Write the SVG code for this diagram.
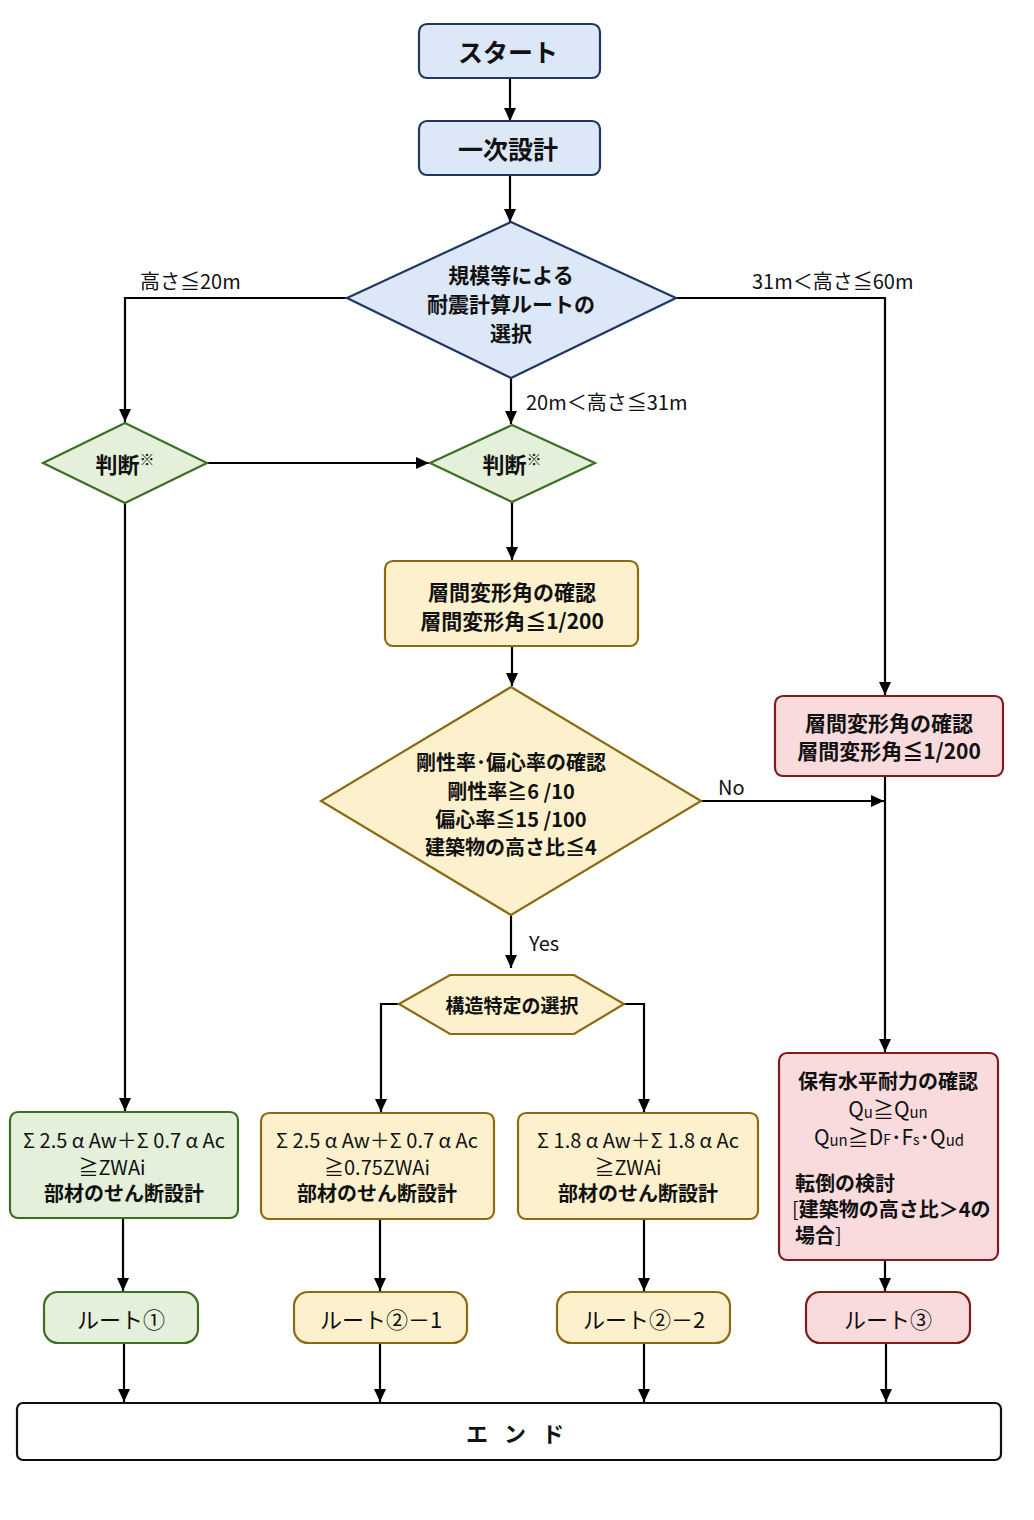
<svg xmlns="http://www.w3.org/2000/svg" width="1034" height="1520" viewBox="0 0 1034 1520">
<defs>
<marker id="ah" markerWidth="14" markerHeight="12" refX="13" refY="6" orient="auto" markerUnits="userSpaceOnUse">
<path d="M0,0 L13,6 L0,12 z" fill="#000"/>
</marker>
<style>
text{font-family:"Noto Sans CJK JP","Noto Sans",sans-serif;fill:#111;text-anchor:middle;dominant-baseline:central}
.b{font-weight:bold}
.blue{fill:#dce8f8;stroke:#1f3763;stroke-width:2.2}
.green{fill:#e4f0da;stroke:#3d6e24;stroke-width:2.2}
.yel{fill:#fdf1cd;stroke:#8a6b14;stroke-width:2.2}
.red{fill:#fadbdd;stroke:#7f1d1d;stroke-width:2.2}
.end{fill:#fff;stroke:#111;stroke-width:2.2}
.arr{fill:none;stroke:#000;stroke-width:2.2;marker-end:url(#ah)}
.lab{font-size:20px;text-anchor:start}
.f{font-size:20px}
</style>
</defs>
<rect width="1034" height="1520" fill="#fff"/>

<g id="connectors">
<line class="arr" x1="510" y1="78" x2="510" y2="121"/>
<line class="arr" x1="510" y1="175" x2="510" y2="222"/>
<polyline class="arr" points="347,298 125,298 125,422"/>
<polyline class="arr" points="676,298 885,298 885,695"/>
<line class="arr" x1="511" y1="378" x2="511" y2="424"/>
<line class="arr" x1="207" y1="463" x2="429" y2="463"/>
<line class="arr" x1="125" y1="503" x2="125" y2="1111"/>
<line class="arr" x1="512" y1="502" x2="512" y2="560"/>
<line class="arr" x1="512" y1="646" x2="512" y2="686"/>
<line class="arr" x1="701" y1="801" x2="884" y2="801"/>
<line class="arr" x1="511" y1="915" x2="511" y2="968"/>
<line class="arr" x1="885" y1="776" x2="885" y2="1052"/>
<polyline class="arr" points="399,1004 381,1004 381,1112"/>
<polyline class="arr" points="624,1004 644,1004 644,1112"/>
<line class="arr" x1="123" y1="1218" x2="123" y2="1291"/>
<line class="arr" x1="380" y1="1219" x2="380" y2="1291"/>
<line class="arr" x1="644" y1="1219" x2="644" y2="1291"/>
<line class="arr" x1="885" y1="1260" x2="885" y2="1291"/>
<line class="arr" x1="124" y1="1343" x2="124" y2="1402"/>
<line class="arr" x1="380" y1="1343" x2="380" y2="1402"/>
<line class="arr" x1="644" y1="1343" x2="644" y2="1402"/>
<line class="arr" x1="886" y1="1343" x2="886" y2="1402"/>
<text class="lab" x="140" y="280">高さ≦20m</text>
<text class="lab" x="752" y="280">31m＜高さ≦60m</text>
<text class="lab" x="526" y="401">20m＜高さ≦31m</text>
<text class="lab" x="718" y="786">No</text>
<text class="lab" x="529" y="942">Yes</text>
</g>

<g id="start">
<rect class="blue" x="419" y="24" width="181" height="54" rx="8"/>
<text class="b" x="508" y="51" font-size="25">スタート</text>
</g>

<g id="primary">
<rect class="blue" x="419" y="121" width="181" height="54" rx="8"/>
<text class="b" x="508" y="148" font-size="25">一次設計</text>
</g>

<g id="select-route">
<polygon class="blue" points="511,222 676,298 511,378 347,298"/>
<text class="b" x="511" y="274" font-size="21">規模等による</text>
<text class="b" x="511" y="303" font-size="21">耐震計算ルートの</text>
<text class="b" x="511" y="332" font-size="21">選択</text>
</g>

<g id="judge1">
<polygon class="green" points="125,423 207,463 125,503 43,463"/>
<text class="b" x="125" y="463" font-size="22">判断<tspan font-size="15" dy="-5">※</tspan></text>
</g>

<g id="judge2">
<polygon class="green" points="512,425 595,463 512,502 430,463"/>
<text class="b" x="512" y="463" font-size="22">判断<tspan font-size="15" dy="-5">※</tspan></text>
</g>

<g id="drift1">
<rect class="yel" x="385" y="561" width="253" height="85" rx="8"/>
<text class="b" x="512" y="591" font-size="21">層間変形角の確認</text>
<text class="b" x="512" y="620" font-size="21">層間変形角≦1/200</text>
</g>

<g id="stiffness">
<polygon class="yel" points="511,687 701,801 511,915 321,801"/>
<text class="b" x="511" y="761" font-size="20">剛性率･偏心率の確認</text>
<text class="b" x="511" y="790" font-size="20">剛性率≧6 /10</text>
<text class="b" x="511" y="818" font-size="20">偏心率≦15 /100</text>
<text class="b" x="511" y="846" font-size="20">建築物の高さ比≦4</text>
</g>

<g id="structure-select">
<polygon class="yel" points="399,1004 450,975 574,975 624,1004 574,1034 450,1034"/>
<text class="b" x="512" y="1004" font-size="19">構造特定の選択</text>
</g>

<g id="drift2">
<rect class="red" x="775" y="696" width="228" height="80" rx="8"/>
<text class="b" x="889" y="722" font-size="21">層間変形角の確認</text>
<text class="b" x="889" y="750" font-size="21">層間変形角≦1/200</text>
</g>

<g id="capacity">
<rect class="red" x="779" y="1053" width="219" height="207" rx="8"/>
<text class="b" x="888" y="1080" font-size="20">保有水平耐力の確認</text>
<text x="888" y="1108" font-size="21">Q<tspan font-size="15" dy="3">u</tspan><tspan dy="-3">≧Q</tspan><tspan font-size="15" dy="3">un</tspan></text>
<text x="889" y="1136" font-size="21">Q<tspan font-size="15" dy="3">un</tspan><tspan dy="-3">≧D</tspan><tspan font-size="14" dy="3">F</tspan><tspan dy="-3">･F</tspan><tspan font-size="14" dy="3">s</tspan><tspan dy="-3">･Q</tspan><tspan font-size="15" dy="3">ud</tspan></text>
<text class="b" x="795" y="1182" font-size="20" style="text-anchor:start">転倒の検討</text>
<text x="792" y="1208" font-size="20" style="text-anchor:start">[<tspan font-weight="bold">建築物の高さ比＞4の</tspan></text>
<text x="795" y="1234" font-size="20" style="text-anchor:start"><tspan font-weight="bold">場合</tspan>]</text>
</g>

<g id="shear1">
<rect class="green" x="10" y="1112" width="228" height="106" rx="8"/>
<text class="f" x="124" y="1139">Σ 2.5 α Aw＋Σ 0.7 α Ac</text>
<text class="f" x="112" y="1166">≧ZWAi</text>
<text class="b" x="124" y="1192" font-size="20">部材のせん断設計</text>
</g>

<g id="shear2">
<rect class="yel" x="261" y="1113" width="233" height="106" rx="8"/>
<text class="f" x="377" y="1139">Σ 2.5 α Aw＋Σ 0.7 α Ac</text>
<text class="f" x="377" y="1166">≧0.75ZWAi</text>
<text class="b" x="377" y="1192" font-size="20">部材のせん断設計</text>
</g>

<g id="shear3">
<rect class="yel" x="518" y="1113" width="240" height="106" rx="8"/>
<text class="f" x="638" y="1139">Σ 1.8 α Aw＋Σ 1.8 α Ac</text>
<text class="f" x="628" y="1166">≧ZWAi</text>
<text class="b" x="638" y="1192" font-size="20">部材のせん断設計</text>
</g>

<g id="route1">
<rect class="green" x="44" y="1292" width="154" height="51" rx="14"/>
<text x="121" y="1318" font-size="22">ルート①</text>
</g>

<g id="route2-1">
<rect class="yel" x="294" y="1292" width="173" height="51" rx="14"/>
<text x="381" y="1318" font-size="22">ルート②－1</text>
</g>

<g id="route2-2">
<rect class="yel" x="557" y="1292" width="173" height="51" rx="14"/>
<text x="644" y="1318" font-size="22">ルート②－2</text>
</g>

<g id="route3">
<rect class="red" x="806" y="1292" width="164" height="51" rx="14"/>
<text x="888" y="1318" font-size="22">ルート③</text>
</g>

<g id="end">
<rect class="end" x="17" y="1403" width="984" height="57" rx="6"/>
<text class="b" x="523" y="1432" font-size="22" letter-spacing="16">エンド</text>
</g>
</svg>
